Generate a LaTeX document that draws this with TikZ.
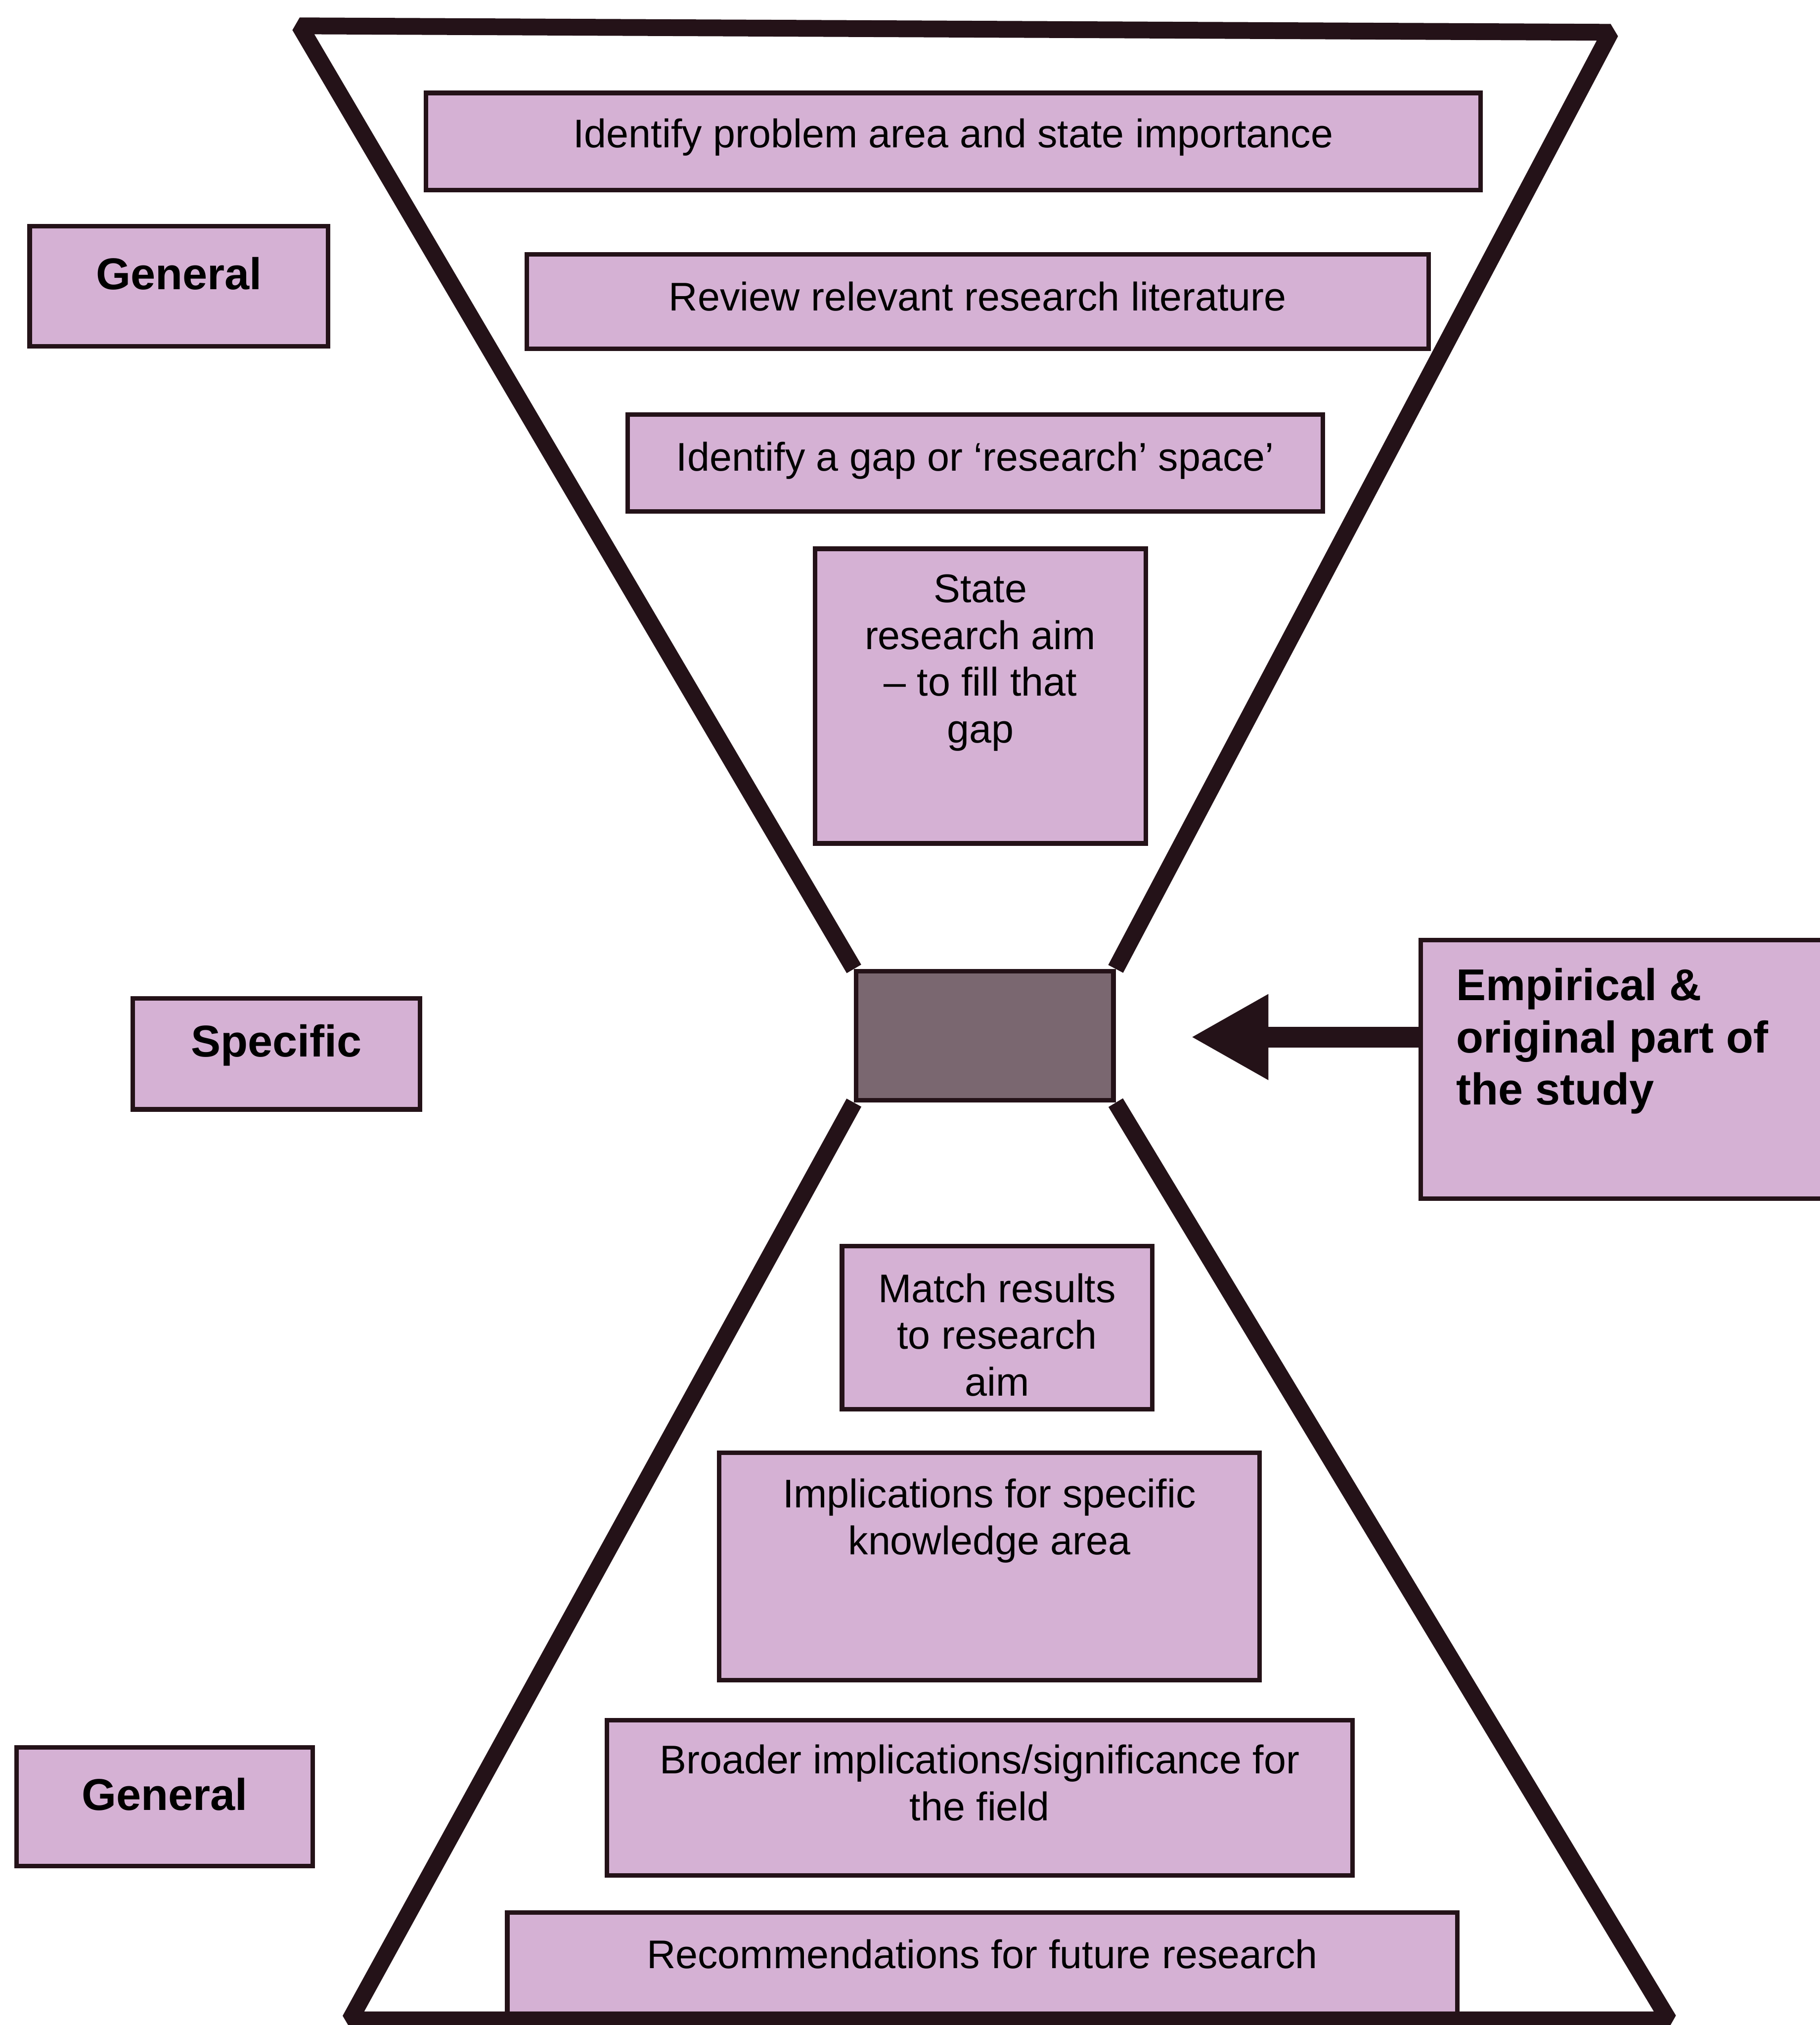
\documentclass[tikz,border=0pt]{standalone}
\usepackage{fontspec}
\setmainfont{Liberation Sans}
\usepackage{xcolor}
\usepackage{tikz}
\usetikzlibrary{positioning,arrows.meta,calc}

\definecolor{boxpink}{RGB}{213,177,212}
\definecolor{neckgrey}{RGB}{122,103,112}
\definecolor{inkline}{RGB}{36,18,24}

\begin{document}
\begin{tikzpicture}[x=0.01cm,y=-0.01cm,
		stagebox/.style={draw=inkline, line width=1pt, fill=boxpink, inner sep=0pt,
			align=center, font=\fontsize{8.8}{10.3}\selectfont},
		sidebox/.style={stagebox, font=\fontsize{9.8}{11.5}\selectfont\bfseries},
		lifted/.style={text depth=#1},
		boxtext/.style={inner sep=0pt, align=center, anchor=north,
			font=\fontsize{8.8}{10.3}\selectfont},
		funnel/.style={draw=inkline, line width=0.13cm, line join=bevel},
		bigarrow/.style={draw=inkline, line width=0.16cm,
			-{Triangle[length=0.6cm,width=0.62cm]}}]
		\useasboundingbox (0,0) rectangle (1409,1568);

		% left hand labels
		\node[sidebox, lifted=5.7pt, minimum width=2.31cm, minimum height=0.93cm] (general1) at (138.5,221.5) {General};
		\node[sidebox, lifted=5.8pt, minimum width=2.22cm, minimum height=0.86cm] (specific) at (214,816) {Specific};
		\node[sidebox, lifted=5.7pt, minimum width=2.29cm, minimum height=0.92cm] (general2) at (127.5,1399) {General};

		% top half
		\node[stagebox, lifted=3.6pt, minimum width=8.16cm, minimum height=0.75cm] (problem) at (738,109.5)
			{Identify problem area and state importance};
		\node[stagebox, lifted=2.4pt, minimum width=6.98cm, minimum height=0.73cm] (review) at (757,233.5)
			{Review relevant research literature};
		\node[stagebox, lifted=3.0pt, minimum width=5.38cm, minimum height=0.75cm] (gap) at (755,358.5)
			{Identify a gap or ‘research’ space’};
		\node[stagebox, minimum width=2.56cm, minimum height=2.28cm] (aim) at (759,539) {};
		\node[boxtext, below=0.21cm of aim.north] (aimtext) {State\\research aim\\– to fill that\\gap};

		% the neck
		\node[stagebox, fill=neckgrey, minimum width=1.99cm, minimum height=1.0cm] (neck) at (762.5,802) {};

		% bottom half
		\node[stagebox, minimum width=2.40cm, minimum height=1.26cm] (match) at (772,1028) {};
		\node[boxtext, below=0.22cm of match.north] (matchtext) {Match results\\to research\\aim};
		\node[stagebox, minimum width=4.18cm, minimum height=1.76cm] (implic) at (766,1213) {};
		\node[boxtext, below=0.21cm of implic.north] (implictext) {Implications for specific\\knowledge area};
		\node[stagebox, minimum width=5.77cm, minimum height=1.20cm] (broad) at (758.5,1392) {};
		\node[boxtext, below=0.20cm of broad.north] (broadtext) {Broader implications/significance for\\the field};
		\node[stagebox, lifted=4.6pt, minimum width=7.35cm, minimum height=0.80cm] (future) at (760.5,1521)
			{Recommendations for future research};

		% right hand label
		\node[stagebox, minimum width=3.3cm, minimum height=2.0cm] (empir) at (1265,828) {};
		\node[boxtext, anchor=north west, align=left, font=\fontsize{9.8}{11.5}\selectfont\bfseries]
			(empirtext) at (1127,749) {Empirical \&\\original part of\\the study};

		\coordinate (tip) at (922,803);
		\draw[bigarrow] (empir.west |- tip) -- (tip);

		% hourglass outline
		\draw[funnel] (neck.north west) -- (232,20) -- (1247,25) -- (neck.north east);
		\draw[funnel] (neck.south west) -- (271,1564) -- (1292,1564) -- (neck.south east);
	\end{tikzpicture}
\end{document}
